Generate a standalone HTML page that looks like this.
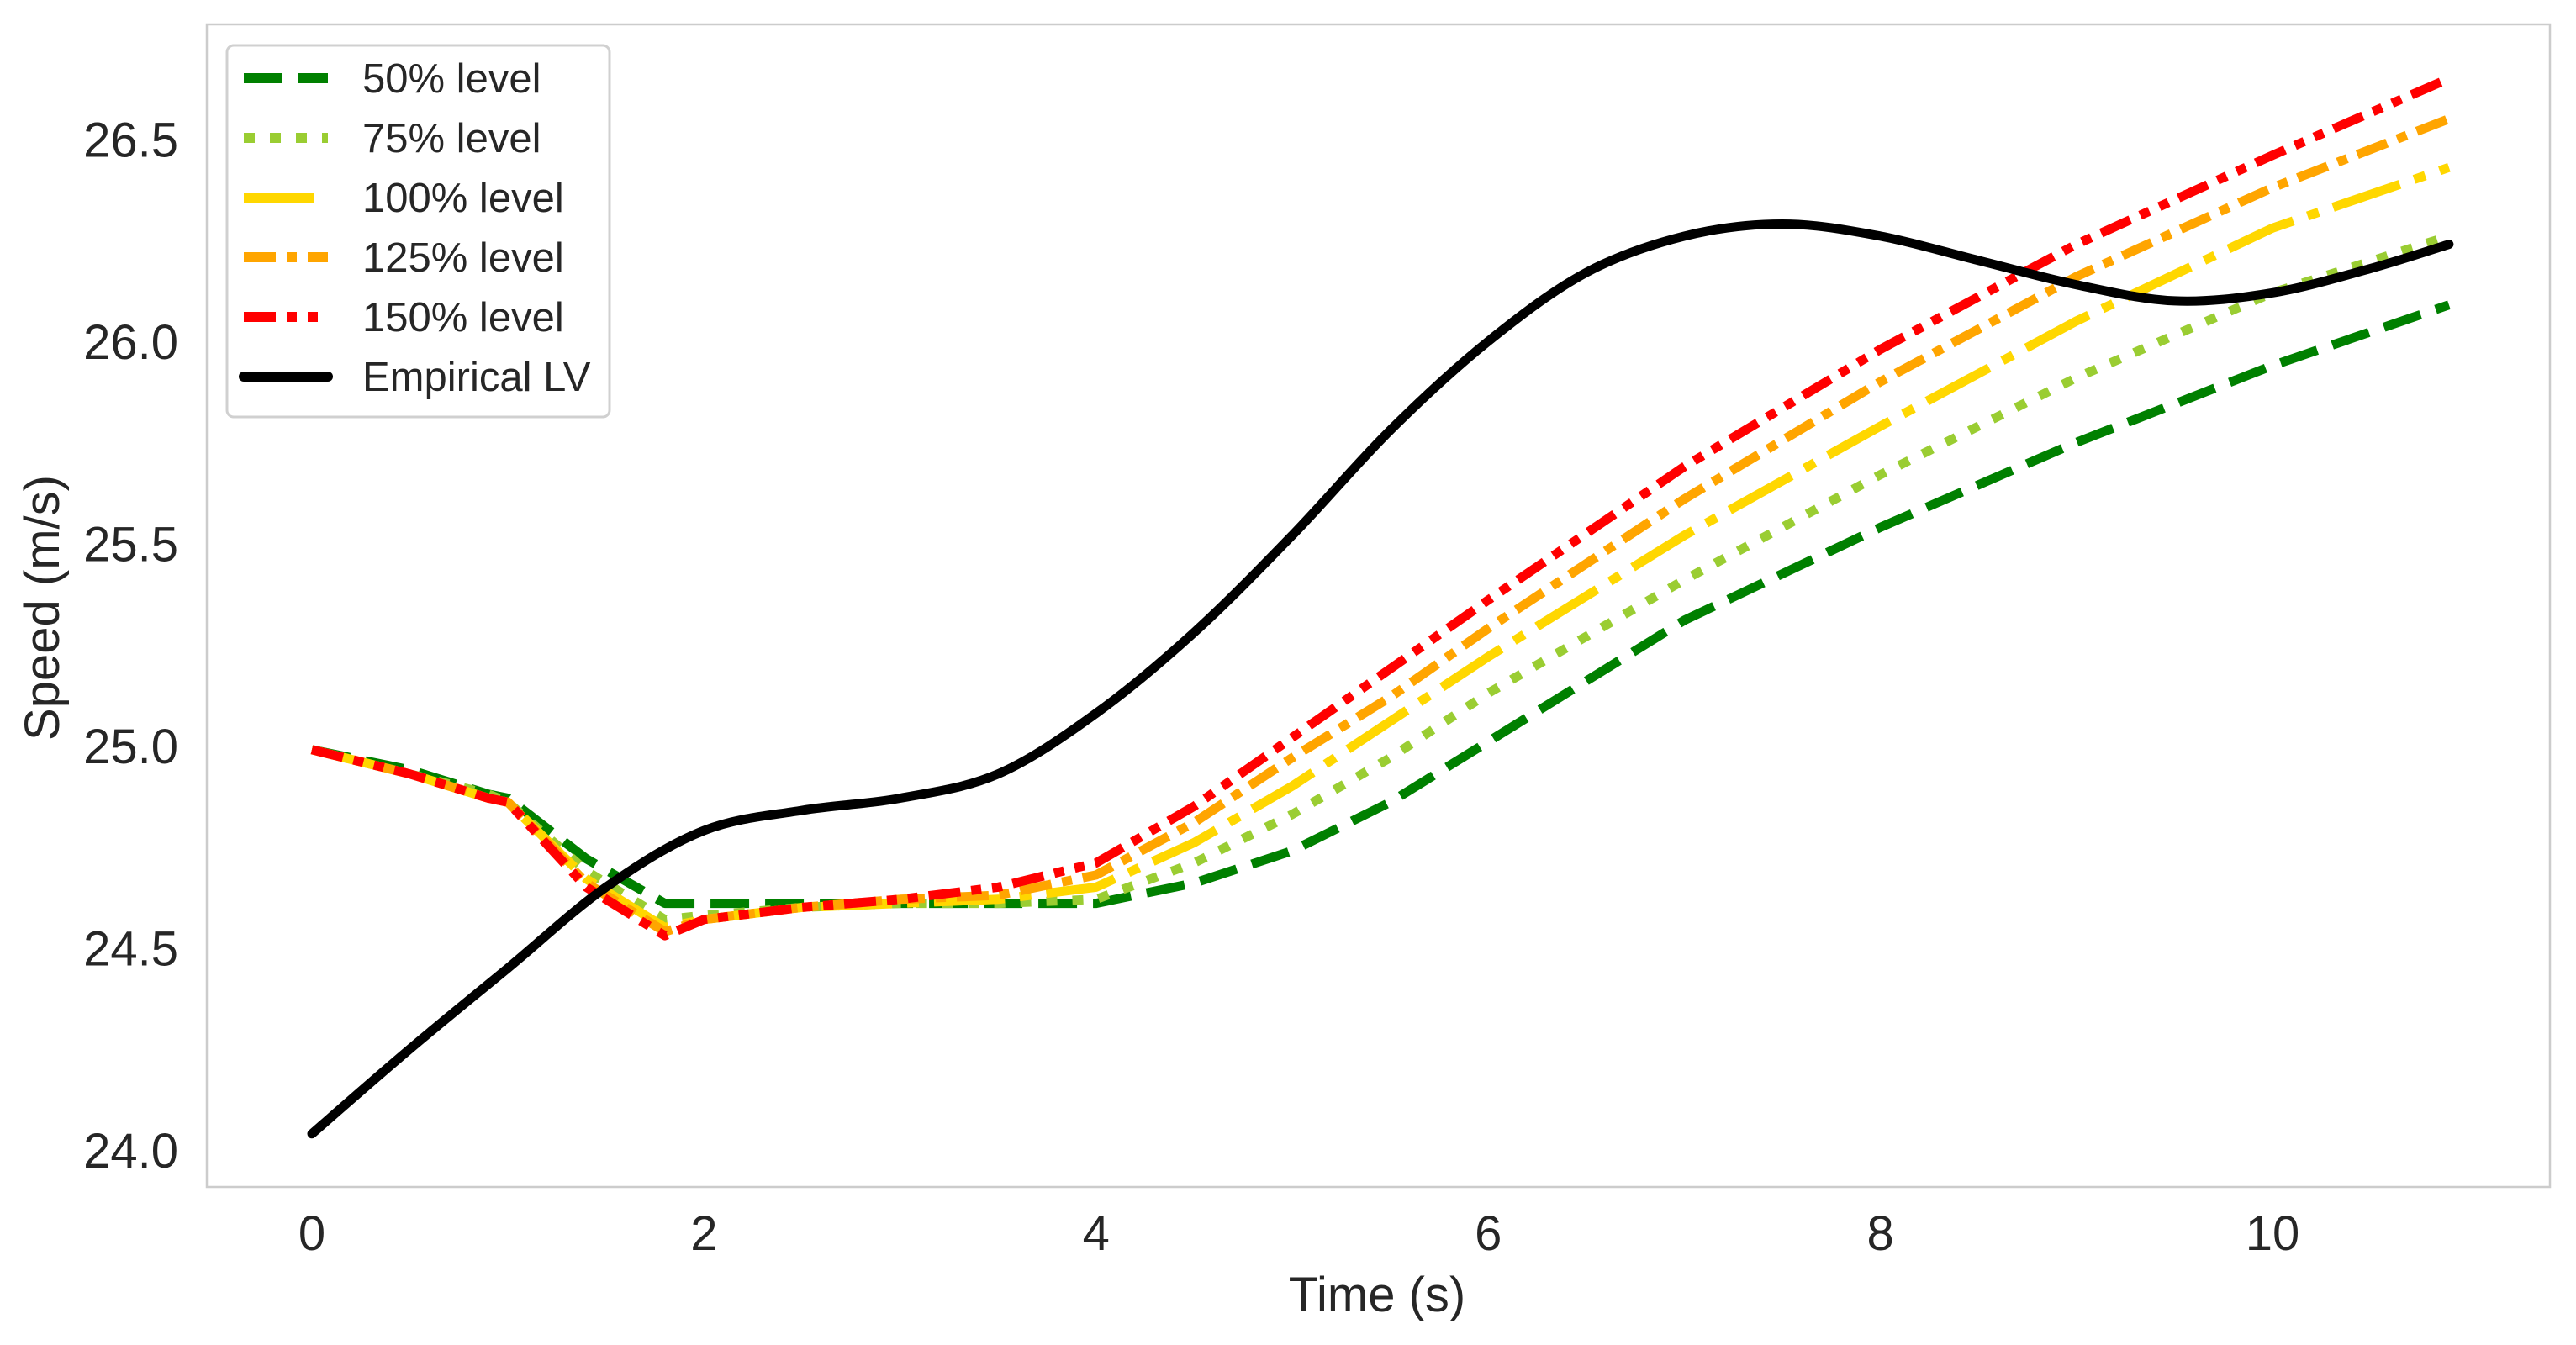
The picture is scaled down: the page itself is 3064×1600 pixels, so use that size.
<!DOCTYPE html>
<html><head><meta charset="utf-8"><style>
html,body{margin:0;padding:0;background:#fff;}
svg{display:block;font-family:"Liberation Sans",sans-serif;}
</style></head><body>
<svg id="chart" width="3064" height="1600" viewBox="0 0 3064 1600">
<rect x="246" y="29" width="2787" height="1383" fill="#fff" stroke="#cccccc" stroke-width="2.5"/>
<g id="ticks"></g>
<g id="series"></g>
<text x="1638" y="1560" font-size="58" fill="#262626" text-anchor="middle">Time (s)</text>
<text transform="translate(70,723) rotate(-90)" font-size="58" fill="#262626" text-anchor="middle">Speed (m/s)</text>
<g id="legend"></g>
</svg>
<script>
const times = [0,0.5,0.9,1.0,1.4,1.8,2,2.5,3,3.5,4,4.5,5,5.5,6,7,8,9,10,10.9];
const level50 = [24.99,24.94,24.88,24.87,24.72,24.61,24.61,24.61,24.61,24.61,24.61,24.66,24.74,24.86,25.01,25.31,25.54,25.75,25.94,26.09];
const level75 = [24.99,24.93,24.88,24.86,24.69,24.57,24.58,24.6,24.61,24.61,24.62,24.71,24.83,24.97,25.13,25.41,25.67,25.91,26.12,26.26];
const level100 = [24.99,24.93,24.87,24.86,24.67,24.55,24.57,24.6,24.61,24.62,24.65,24.76,24.9,25.06,25.22,25.52,25.79,26.05,26.28,26.43];
const level125 = [24.99,24.93,24.87,24.86,24.66,24.54,24.57,24.6,24.62,24.63,24.68,24.81,24.97,25.12,25.29,25.61,25.9,26.16,26.38,26.55];
const level150 = [24.99,24.93,24.87,24.86,24.65,24.53,24.57,24.6,24.62,24.65,24.71,24.85,25.02,25.19,25.36,25.69,25.98,26.24,26.46,26.65];
const lvTimes = [0,0.5,1,1.5,2,2.5,3,3.5,4,4.5,5,5.5,6,6.5,7,7.5,8,8.5,9,9.5,10,10.5,10.9];
const lvSpeed = [24.04,24.25,24.45,24.65,24.79,24.84,24.87,24.93,25.08,25.28,25.52,25.78,26.0,26.17,26.26,26.29,26.26,26.2,26.14,26.1,26.12,26.18,26.24];
const xTicks = [0,2,4,6,8,10];
const yTicks = [24.0,24.5,25.0,25.5,26.0,26.5];
const names = ["50% level","75% level","100% level","125% level","150% level","Empirical LV"];

const NS="http://www.w3.org/2000/svg";
const X = t => 371 + t*233.2;
const Y = v => 1368 - (v-24)*481;
function mk(tag, attrs, parent){const e=document.createElementNS(NS,tag);for(const k in attrs)e.setAttribute(k,attrs[k]);parent.appendChild(e);return e;}

const tg=document.getElementById('ticks');
xTicks.forEach(t=>{const e=mk('text',{x:X(t),y:1487,'font-size':58,fill:'#262626','text-anchor':'middle'},tg);e.textContent=String(t);

});
yTicks.forEach(v=>{const e=mk('text',{x:212,y:Y(v)+21,'font-size':58,fill:'#262626','text-anchor':'end'},tg);e.textContent=v.toFixed(1);

});

const styles=[
 {vals:level50,color:'#008000',dash:'46 19',name:'series-50-level'},
 {vals:level75,color:'#9acd32',dash:'13 18',name:'series-75-level'},
 {vals:level100,color:'#ffd700',dash:'84 18 14 18',name:'series-100-level'},
 {vals:level125,color:'#ffa500',dash:'38 13 12 13',name:'series-125-level'},
 {vals:level150,color:'#ff0000',dash:'38 13 12 13 12 13',name:'series-150-level'}
];
const sg=document.getElementById('series');
styles.forEach(s=>{
 const d=times.map((t,i)=>(i?'L':'M')+X(t).toFixed(1)+','+Y(s.vals[i]).toFixed(1)).join(' ');
 const p=mk('path',{d:d,fill:'none',stroke:s.color,'stroke-width':11,'stroke-dasharray':s.dash,'stroke-linecap':'butt','stroke-linejoin':'round'},sg);
 
 
});
const pts=lvTimes.map((t,i)=>[X(t),Y(lvSpeed[i])]);
let d='M'+pts[0][0]+','+pts[0][1];
for(let i=0;i<pts.length-1;i++){
 const p0=pts[Math.max(0,i-1)],p1=pts[i],p2=pts[i+1],p3=pts[Math.min(pts.length-1,i+2)];
 const c1=[p1[0]+(p2[0]-p0[0])/6,p1[1]+(p2[1]-p0[1])/6],c2=[p2[0]-(p3[0]-p1[0])/6,p2[1]-(p3[1]-p1[1])/6];
 d+=` C${c1[0].toFixed(1)},${c1[1].toFixed(1)} ${c2[0].toFixed(1)},${c2[1].toFixed(1)} ${p2[0].toFixed(1)},${p2[1].toFixed(1)}`;
}
const lv=mk('path',{d:d,fill:'none',stroke:'#000','stroke-width':11,'stroke-linecap':'round','stroke-linejoin':'round'},sg);



const lg=document.getElementById('legend');
const box=mk('rect',{x:270,y:54,width:455,height:442,rx:8,fill:'#fff',stroke:'#d0d0d0','stroke-width':3},lg);


const legStyles=styles.concat([{color:'#000',dash:'none'}]);
names.forEach((n,i)=>{
 const y=93+i*71;
 const g=mk('g',{},lg);
 
 
 const s=legStyles[i];
 mk('line',{x1:290,y1:y,x2:390,y2:y,stroke:s.color,'stroke-width':12,'stroke-dasharray':s.dash,'stroke-linecap':i==5?'round':'butt'},g);
 const t=mk('text',{x:431,y:y+17,'font-size':49,fill:'#262626'},g);t.textContent=n;
});
</script>
</body></html>
